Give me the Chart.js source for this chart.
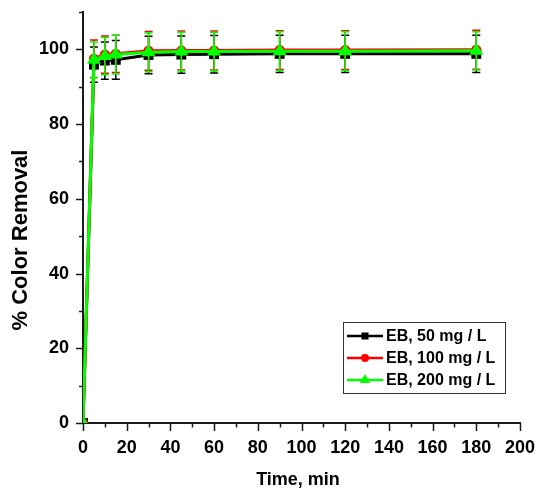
<!DOCTYPE html>
<html><head><meta charset="utf-8">
<script src="https://cdn.jsdelivr.net/npm/chart.js@4/dist/chart.umd.min.js"></script>
<style>html,body{margin:0;padding:0;background:#fff}#wrap{width:538px;height:492px}</style>
</head><body><div id="wrap"><canvas id="c" width="538" height="492"></canvas></div>
<script>
// ---- data ----
const times  = [0, 5, 10, 15, 30, 45, 60, 90, 120, 180];
const eb50   = [0, 95.9, 97.0, 97.2, 98.5, 98.6, 98.7, 98.8, 98.8, 98.8];
const eb100  = [0, 97.5, 98.6, 98.8, 99.6, 99.7, 99.7, 99.8, 99.8, 99.9];
const eb200  = [0, 97.2, 98.2, 98.6, 99.2, 99.4, 99.4, 99.5, 99.5, 99.6];
const err50  = [0, 4.7, 5.0, 5.2, 5.0, 5.0, 5.0, 5.0, 5.0, 5.0];
const err100 = [0, 5.0, 5.0, 5.0, 5.2, 5.2, 5.2, 5.2, 5.2, 5.2];
const err200 = [0, 4.8, 5.0, 5.2, 5.2, 5.2, 5.2, 5.2, 5.2, 5.1];
const seriesLabels = ['EB, 50 mg / L', 'EB, 100 mg / L', 'EB, 200 mg / L'];
const xTickValues = [0, 20, 40, 60, 80, 100, 120, 140, 160, 180, 200];
const yTickValues = [0, 20, 40, 60, 80, 100];
const xTitle = 'Time, min';
const yTitle = '% Color Removal';

const FONT = "'Liberation Sans', Arial, sans-serif";
const AXIS = '#1a1a1a';
const colors = ['#000000', '#ff0000', '#00ff00'];
const shapes = ['rect', 'circle', 'triangle'];
const radii = [7, 5, 8];
const seriesVals = [eb50, eb100, eb200];
const seriesErr = [err50, err100, err200];

function pts(vals) { return times.map((t, i) => ({x: t, y: vals[i]})); }

const datasets = seriesVals.map((v, k) => ({
  label: seriesLabels[k],
  data: pts(v),
  borderColor: colors[k],
  backgroundColor: colors[k],
  borderWidth: 3,
  pointStyle: shapes[k],
  pointRadius: radii[k],
  pointBorderWidth: 0,
  pointBackgroundColor: colors[k],
  pointBorderColor: colors[k],
  tension: 0,
  order: 2 - k
}));

function drawMarker(ctx, shape, x, y, r, color) {
  ctx.save();
  ctx.fillStyle = color;
  ctx.beginPath();
  if (shape === 'rect') {
    const s = r * Math.SQRT1_2;
    ctx.rect(x - s, y - s, 2 * s, 2 * s);
  } else if (shape === 'circle') {
    ctx.arc(x, y, r, 0, Math.PI * 2);
  } else {
    const h = r * Math.sqrt(3) / 2;
    ctx.moveTo(x, y - r);
    ctx.lineTo(x + h, y + r / 2);
    ctx.lineTo(x - h, y + r / 2);
    ctx.closePath();
  }
  ctx.fill();
  ctx.restore();
}

const deco = {
  id: 'deco',
  afterDatasetDraw(chart, args) {
    const k = args.index;
    const xs = chart.scales.x, ys = chart.scales.y, ctx = chart.ctx;
    ctx.save();
    ctx.strokeStyle = colors[k];
    ctx.lineWidth = 1.5;
    times.forEach((t, i) => {
      const e = seriesErr[k][i];
      if (!e) return;
      const px = xs.getPixelForValue(t);
      const top = ys.getPixelForValue(seriesVals[k][i] + e);
      const bot = ys.getPixelForValue(seriesVals[k][i] - e);
      ctx.beginPath();
      ctx.moveTo(px, top); ctx.lineTo(px, bot);
      ctx.moveTo(px - 4, top); ctx.lineTo(px + 4, top);
      ctx.moveTo(px - 4, bot); ctx.lineTo(px + 4, bot);
      ctx.stroke();
    });
    ctx.restore();
  },
  afterDraw(chart) {
    const xs = chart.scales.x, ys = chart.scales.y, ctx = chart.ctx;
    const ca = chart.chartArea;
    ctx.save();
    ctx.strokeStyle = AXIS;
    ctx.lineWidth = 1.5;
    // x ticks
    for (let v = 0; v <= 200; v += 10) {
      const px = Math.round(xs.getPixelForValue(v)) + 0.5;
      const len = v % 20 === 0 ? 8 : 4.5;
      ctx.beginPath(); ctx.moveTo(px, ca.bottom); ctx.lineTo(px, ca.bottom + len); ctx.stroke();
    }
    // y ticks
    for (let v = 0; v <= 110; v += 10) {
      const py = Math.round(ys.getPixelForValue(v)) + 0.5;
      const len = v % 20 === 0 ? 7 : 4;
      ctx.beginPath(); ctx.moveTo(ca.left, py); ctx.lineTo(ca.left - len, py); ctx.stroke();
    }
    // axis titles
    ctx.fillStyle = '#000';
    ctx.textAlign = 'center';
    ctx.textBaseline = 'middle';
    ctx.font = 'bold 18px ' + FONT;
    ctx.fillText(xTitle, 298, 480);
    ctx.save();
    ctx.translate(21, 240);
    ctx.rotate(-Math.PI / 2);
    ctx.font = 'bold 22px ' + FONT;
    ctx.fillText(yTitle, 0, 0);
    ctx.restore();
    // legend
    ctx.strokeStyle = '#333';
    ctx.lineWidth = 1;
    ctx.strokeRect(343.5, 322.5, 162, 71);
    const rowsY = [336, 358, 380];
    const lr = [5, 4, 6];
    ctx.font = 'bold 16px ' + FONT;
    ctx.textAlign = 'left';
    seriesLabels.forEach((lab, k) => {
      const y = rowsY[k];
      ctx.strokeStyle = colors[k];
      ctx.lineWidth = 2.5;
      ctx.beginPath(); ctx.moveTo(347, y); ctx.lineTo(383, y); ctx.stroke();
      drawMarker(ctx, shapes[k], 365, y, lr[k], colors[k]);
      ctx.fillStyle = '#000';
      ctx.fillText(lab, 386, y + 1);
    });
    ctx.restore();
  }
};

new Chart(document.getElementById('c'), {
  type: 'line',
  data: { datasets },
  options: {
    responsive: false,
    animation: false,
    devicePixelRatio: 1,
    layout: { padding: { top: 12, right: 18, left: 0, bottom: 0 } },
    plugins: { legend: { display: false }, tooltip: { enabled: false } },
    scales: {
      x: {
        type: 'linear', min: 0, max: 200,
        afterFit(s) { s.height = 69; s.paddingLeft = 0; s.paddingRight = 0; },
        grid: { display: true, drawOnChartArea: false, drawTicks: true, tickLength: 8, tickColor: 'rgba(0,0,0,0)' },
        border: { display: true, color: AXIS, width: 2 },
        ticks: {
          stepSize: 10, autoSkip: false, maxRotation: 0, padding: 6,
          color: '#000', font: { family: FONT, size: 18, weight: 'bold' },
          callback: v => xTickValues.includes(v) ? String(v) : ''
        }
      },
      y: {
        type: 'linear', min: 0, max: 110,
        afterFit(s) { s.width = 83; s.paddingTop = 0; s.paddingBottom = 0; },
        grid: { display: true, drawOnChartArea: false, drawTicks: true, tickLength: 7, tickColor: 'rgba(0,0,0,0)' },
        border: { display: true, color: AXIS, width: 2 },
        ticks: {
          stepSize: 10, autoSkip: false, padding: 7,
          color: '#000', font: { family: FONT, size: 18, weight: 'bold' },
          callback: v => yTickValues.includes(v) ? String(v) : ''
        }
      }
    }
  },
  plugins: [deco]
});
</script>
</body></html>
